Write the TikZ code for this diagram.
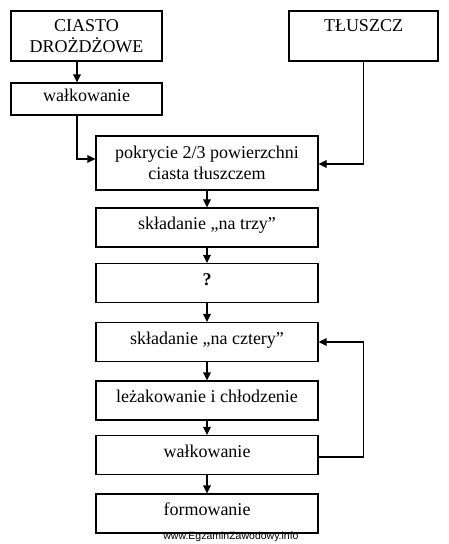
\documentclass[tikz,border=0pt]{standalone}
\usepackage{fontspec}
\setmainfont{Liberation Serif}
\newfontfamily\urlfont{Liberation Sans}
\usetikzlibrary{arrows.meta}

\begin{document}
\begin{tikzpicture}[x=1pt, y=-1pt]
\tikzset{etap/.style={draw, line width=1.1pt, inner sep=0pt, align=center, minimum height=39pt, minimum width=222pt, font=\fontsize{18}{21.5}\selectfont}}
\tikzset{linia/.style={etap, text height=13pt, text depth=9pt}}
\tikzset{strz/.style={line width=1.1pt, -{Triangle[length=8pt, width=7.5pt]}}}
\useasboundingbox (0, 0) rectangle (449, 544);
\node[etap, minimum width=151pt, minimum height=50pt] (ciasto) at (86.5, 36) {CIASTO\\DROŻDŻOWE};
\node[etap, minimum width=149pt, minimum height=50pt] (tluszcz) at (363.5, 36) {TŁUSZCZ\\\mbox{}};
\node[linia, minimum width=151pt, minimum height=32pt] (walk1) at (86.5, 99) {wałkowanie};
\node[etap, minimum height=54pt] (pokrycie) at (207, 163) {pokrycie 2/3 powierzchni\\ciasta tłuszczem};
\node[linia] (trzy) at (207, 227.5) {składanie „na trzy”};
\node[linia, font=\fontsize{18}{22}\selectfont\bfseries] (pytanie) at (207, 283) {?};
\node[linia] (cztery) at (207, 342) {składanie „na cztery”};
\node[linia] (lezak) at (207, 400.5) {leżakowanie i chłodzenie};
\node[linia] (walk2) at (207, 455) {wałkowanie};
\node[linia] (form) at (207, 513.5) {formowanie};
\node[font=\urlfont\fontsize{10.5}{12}\selectfont, inner sep=0pt] (url) at (231, 537) {www.EgzaminZawodowy.info};
\draw[strz] ([xshift=-9.5]ciasto.south) -- ([xshift=-9.5]walk1.north);
\draw[strz] ([xshift=-9.5]walk1.south) |- ([yshift=4]pokrycie.west);
\draw[strz] (tluszcz.south) |- ([yshift=-1]pokrycie.east);
\draw[strz] (pokrycie) -- (trzy);
\draw[strz] (trzy) -- (pytanie);
\draw[strz] (pytanie) -- (cztery);
\draw[strz] (cztery) -- (lezak);
\draw[strz] (lezak) -- (walk2);
\draw[strz] (walk2) -- (form);
\draw[strz] ([yshift=-2]walk2.east) -- ++(45, 0) |- (cztery.east);
\end{tikzpicture}
\end{document}
